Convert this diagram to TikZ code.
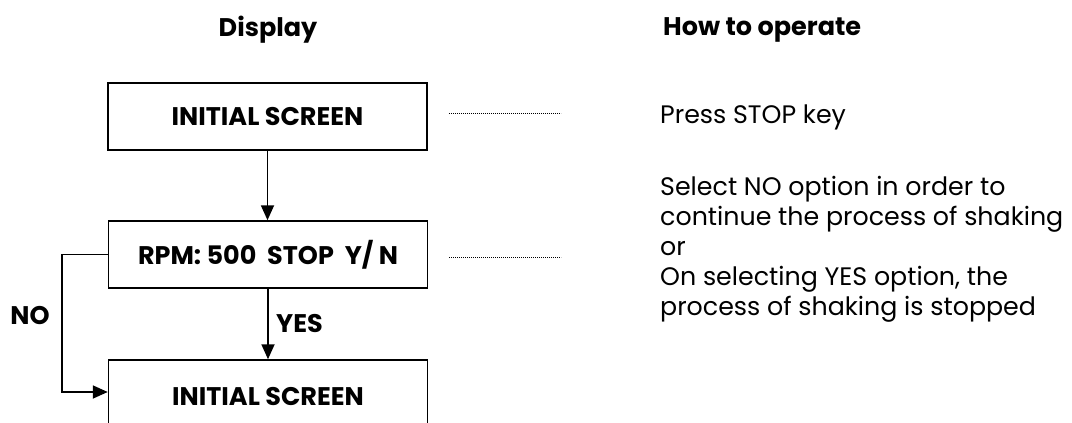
\documentclass[tikz,border=0pt]{standalone}
\usepackage{fontspec}
\setmainfont{Poppins}
\usetikzlibrary{arrows.meta}
\begin{document}
\begin{tikzpicture}[x=1pt,y=-1pt,
  screen/.style={draw, line width=1.5pt, minimum width=319pt, minimum height=67pt,
    inner sep=0pt, font=\fontsize{25.5}{30}\selectfont\bfseries},
  flow/.style={line width=1.8pt, -{Triangle[length=15pt,width=13pt]}},
  guide/.style={line width=0.9pt, dash pattern=on 0.9pt off 1.1pt},
  head/.style={font=\fontsize{25.5}{30}\selectfont\bfseries},
  lab/.style={font=\fontsize{25.5}{30}\selectfont\bfseries},
  note/.style={font=\fontsize{25.3}{30}\selectfont, anchor=base west, inner sep=0pt}]
\useasboundingbox (0,0) rectangle (1072,423);
\clip (0,0) rectangle (1072,423);

% column headings
\node[head] (hdisp) at (268,30) {Display};
\node[head, anchor=west, inner sep=0pt] (hhow) at (663,30) {How to operate};

% display screens
\node[screen] (s1) at (267.5,116.5) {INITIAL SCREEN};
\node[screen] (s2) at (268,254.5) {RPM: 500\ \ STOP\ \ Y/ N};
\node[screen, minimum height=74pt] (s3) at (268,397) {INITIAL SCREEN};

% flow between screens
\draw[flow] (s1.south) -- (s1.south |- s2.north);
\draw[flow] (s2.south) -- node[lab, right, xshift=4pt] (yes) {YES} (s2.south |- s3.north);
\coordinate (noturn) at (62,392);
\draw[flow] (s2.west) -| (noturn) -- (noturn -| s3.west);
\node[lab] (no) at (30,316) {NO};

% operating instructions
\node[note] (press) at (660,123) {Press STOP key};
\node[note] (l1) at (660,195) {Select NO option in order to};
\node[note] (l2) at (660,225) {continue the process of shaking};
\node[note] (l3) at (660,255) {or};
\node[note] (l4) at (660,285) {On selecting YES option, the};
\node[note] (l5) at (660,315) {process of shaking is stopped};

% leader lines from screens to instructions
\draw[guide] ([shift={(21,-3.5)}]s1.east) -- ++(112,0);
\draw[guide] ([shift={(21,2.5)}]s2.east) -- ++(112,0);
\end{tikzpicture}
\end{document}
